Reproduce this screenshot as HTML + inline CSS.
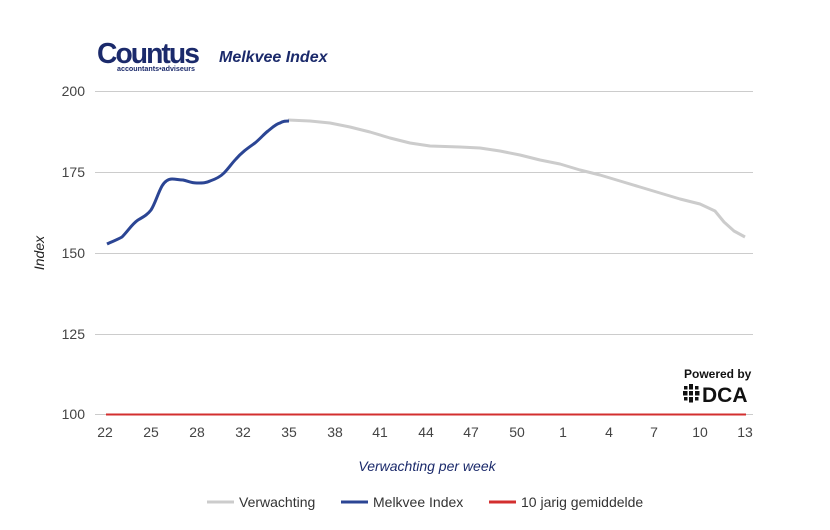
<!DOCTYPE html>
<html><head><meta charset="utf-8"><style>
body{margin:0;background:#fff;width:830px;height:530px;overflow:hidden}
svg{display:block;font-family:"Liberation Sans",Arial,sans-serif}
</style></head><body>
<svg width="830" height="530" viewBox="0 0 830 530">
<text x="97" y="63" font-size="29" font-weight="bold" fill="#1b2a6b" letter-spacing="-2" textLength="101" lengthAdjust="spacingAndGlyphs">Countus</text>
<text x="117" y="71" font-size="7" font-weight="bold" fill="#1b2a6b" textLength="78" lengthAdjust="spacingAndGlyphs">accountants•adviseurs</text>
<text x="219" y="62" font-size="16" font-weight="bold" font-style="italic" fill="#1b2a6b">Melkvee Index</text>
<g stroke="#cccccc" stroke-width="1">
<line x1="95" y1="91.5" x2="753" y2="91.5"/>
<line x1="95" y1="172.5" x2="753" y2="172.5"/>
<line x1="95" y1="253.5" x2="753" y2="253.5"/>
<line x1="95" y1="334.5" x2="753" y2="334.5"/>
<line x1="95" y1="414.5" x2="753" y2="414.5"/>
</g>
<g font-size="14" fill="#444" text-anchor="end">
<text x="85" y="96">200</text><text x="85" y="177">175</text><text x="85" y="258">150</text><text x="85" y="339">125</text><text x="85" y="419">100</text>
</g>
<g font-size="14" fill="#444" text-anchor="middle">
<text x="105" y="437">22</text><text x="151" y="437">25</text><text x="197" y="437">28</text><text x="243" y="437">32</text><text x="289" y="437">35</text><text x="335" y="437">38</text><text x="380" y="437">41</text><text x="426" y="437">44</text><text x="471" y="437">47</text><text x="517" y="437">50</text><text x="563" y="437">1</text><text x="609" y="437">4</text><text x="654" y="437">7</text><text x="700" y="437">10</text><text x="745" y="437">13</text>
</g>
<text x="427" y="471" font-size="14" font-style="italic" fill="#1b2a6b" text-anchor="middle">Verwachting per week</text>
<text transform="translate(44,253) rotate(-90)" font-size="14" font-style="italic" fill="#222" text-anchor="middle">Index</text>
<line x1="106" y1="414.5" x2="746" y2="414.5" stroke="#d32f2f" stroke-width="2"/>
<polyline fill="none" stroke="#cccccc" stroke-width="3" stroke-linejoin="round" points="288,120 310,121 330,123 350,127 370,132 390,138 410,143 430,146 460,147 480,148 500,151 520,155 540,160 560,164 580,170 600,175 620,181 640,187 660,193 680,199 700,204 715,211 724,222 734,231 745,237"/>
<path fill="none" stroke="#2b4594" stroke-width="3" stroke-linejoin="round" d="M107,244 C113,241 117,240 122,237 C128,231 132,224 138,220 C145,216 148,214 151,210 C155,204 158,193 162,186 C165,181 168,179 172,179 C176,179 179,180 183,180 C188,181 191,183 197,183 C203,183 206,183 210,181 C216,179 220,177 224,173 C229,168 232,163 236,159 C242,152 248,148 255,143 C261,138 264,134 268,131 C273,127 276,124 280,123 C283,121 286,121 289,121"/>
<text x="684" y="378" font-size="12" font-weight="bold" fill="#111">Powered by</text>
<g fill="#111">
<rect x="684" y="386" width="3.5" height="3.5"/><rect x="689" y="384" width="4" height="5.5"/><rect x="695" y="386" width="3.5" height="3.5"/>
<rect x="683" y="391" width="4.5" height="4.5"/><rect x="689" y="391" width="4" height="4.5"/><rect x="695" y="391" width="4.5" height="4.5"/>
<rect x="684" y="397" width="3.5" height="3.5"/><rect x="689" y="397" width="4" height="5.5"/><rect x="695" y="397" width="3.5" height="3.5"/>
</g>
<text x="702" y="402" font-size="21" font-weight="bold" fill="#111">DCA</text>
<line x1="207" y1="502" x2="234" y2="502" stroke="#cccccc" stroke-width="3"/>
<text x="239" y="507" font-size="14" fill="#333">Verwachting</text>
<line x1="341" y1="502" x2="368" y2="502" stroke="#2b4594" stroke-width="3"/>
<text x="373" y="507" font-size="14" fill="#333">Melkvee Index</text>
<line x1="489" y1="502" x2="516" y2="502" stroke="#d32f2f" stroke-width="3"/>
<text x="521" y="507" font-size="14" fill="#333">10 jarig gemiddelde</text>
</svg>
</body></html>
